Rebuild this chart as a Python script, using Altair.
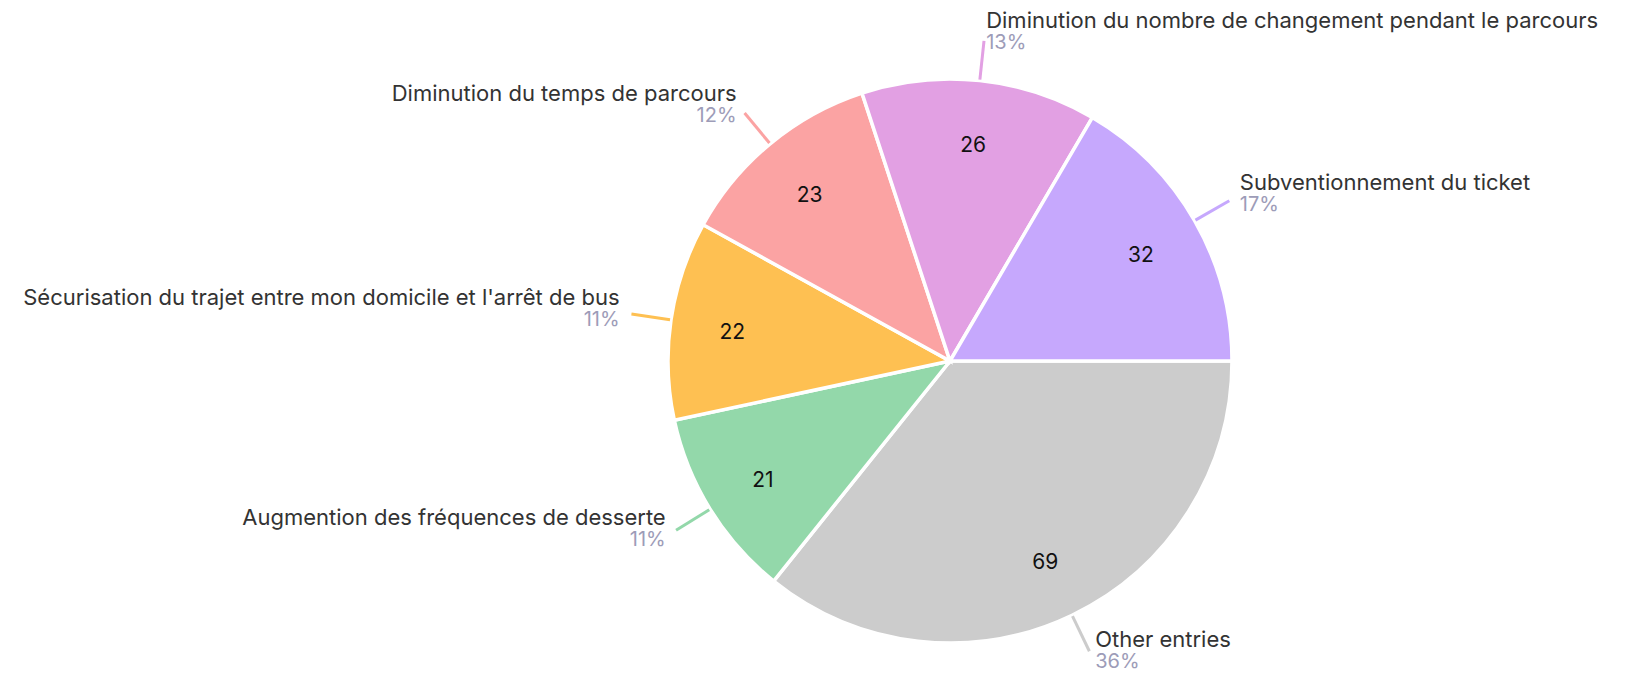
import altair as alt
import pandas as pd

# ---- data (clockwise from 3 o'clock) ----
categories = [
    "Other entries",
    "Augmention des fréquences de desserte",
    "Sécurisation du trajet entre mon domicile et l'arrêt de bus",
    "Diminution du temps de parcours",
    "Diminution du nombre de changement pendant le parcours",
    "Subventionnement du ticket",
]
values = [69, 21, 22, 23, 26, 32]
colors = ["#cccccc", "#93d8aa", "#fec052", "#fba3a3", "#e2a0e3", "#c6a8fd"]

df = pd.DataFrame({"idx": list(range(len(categories))), "cat": categories, "value": values})

# ---- layout ----
CX, CY, R = 942, 353, 282
R_IN = 220
L0, L1 = R + 1, R + 40
FONT = "Inter"

base = (
    alt.Chart(df)
    .transform_joinaggregate(total="sum(value)")
    .transform_window(cum="sum(value)", sort=[alt.SortField("idx")], frame=[None, 0])
    .transform_calculate(
        t0="PI/2 + 2*PI*(datum.cum - datum.value)/datum.total",
        t1="PI/2 + 2*PI*datum.cum/datum.total",
        a="2*PI*(datum.cum - datum.value/2)/datum.total",
    )
    .transform_calculate(c="cos(datum.a)", s="sin(datum.a)")
    .transform_calculate(
        lx1=f"{CX} + {L0}*datum.c",
        ly1=f"{CY} + {L0}*datum.s",
        lx2=f"{CX} + {L1}*datum.c",
        ly2=f"{CY} + {L1}*datum.s",
        ix=f"{CX} + {R_IN}*datum.c",
        iy=f"{CY} + {R_IN}*datum.s + 4",
        tx=f"{CX} + {L1}*datum.c + (datum.c >= 0 ? 1 : -1)*(1 + 11*abs(datum.c))",
        ny=f"{CY} + {L1}*datum.s - 8 + 4.6*datum.s",
        pct="round(100*datum.value/datum.total) + '%'",
    )
    .transform_calculate(py="datum.ny + 21")
)

color = alt.Color("cat:N", scale=alt.Scale(domain=categories, range=colors), legend=None)

arcs = base.mark_arc(outerRadius=R, stroke="white", strokeWidth=3.5).encode(
    x=alt.value(CX),
    y=alt.value(CY),
    theta=alt.Theta("t0:Q", scale=None, stack=None),
    theta2="t1:Q",
    color=color,
)

leaders = base.mark_rule(strokeWidth=3).encode(
    x=alt.X("lx1:Q", scale=None, axis=None),
    y=alt.Y("ly1:Q", scale=None, axis=None),
    x2="lx2:Q",
    y2="ly2:Q",
    color=color,
)

inner = base.mark_text(font=FONT, fontSize=21, color="#111111", align="center", baseline="middle").encode(
    x=alt.X("ix:Q", scale=None, axis=None),
    y=alt.Y("iy:Q", scale=None, axis=None),
    text="value:Q",
)

def side_labels(filter_expr, align):
    sub = base.transform_filter(filter_expr)
    names = sub.mark_text(font=FONT, fontSize=22, color="#333333", align=align, baseline="alphabetic").encode(
        x=alt.X("tx:Q", scale=None, axis=None),
        y=alt.Y("ny:Q", scale=None, axis=None),
        text="cat:N",
    )
    pcts = sub.mark_text(font=FONT, fontSize=20, color="#9d9cb8", align=align, baseline="alphabetic").encode(
        x=alt.X("tx:Q", scale=None, axis=None),
        y=alt.Y("py:Q", scale=None, axis=None),
        text="pct:N",
    )
    return names + pcts

right = side_labels("datum.c >= 0", "left")
left = side_labels("datum.c < 0", "right")

chart = (
    alt.layer(arcs, leaders, inner, right, left)
    .properties(width=1609, height=665, padding=0, autosize=alt.AutoSizeParams(type="none"))
    .configure_view(stroke=None)
)

chart.save("out.html", embed_options={"renderer": "svg", "actions": False})
